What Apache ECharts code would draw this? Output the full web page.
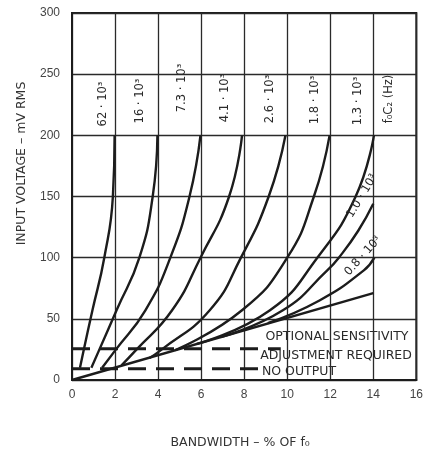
<!DOCTYPE html>
<html><head><meta charset="utf-8">
<script src="https://cdn.jsdelivr.net/npm/echarts@6/dist/echarts.min.js"></script>
<style>html,body{margin:0;padding:0;background:#fff}#c{width:426px;height:455px}</style>
</head><body><div id="c"></div>
<script>
// x: bandwidth (% of f0), y: input voltage (mV RMS)
const xTickValues = [0, 2, 4, 6, 8, 10, 12, 14, 16];
const yTickValues = [0, 50, 100, 150, 200, 250, 300];
const curveLabels = ['62 · 10³', '16 · 10³', '7.3 · 10³', '4.1 · 10³', '2.6 · 10³', '1.8 · 10³', '1.3 · 10³', '1.0 · 10³', '0.8 · 10³'];
const c62 = [[0.37,10],[0.55,25],[0.95,57],[1.5,100],[1.9,150],[1.98,200]];
const c16 = [[0.9,10],[1.25,24],[2.07,57],[3.13,100],[3.75,150],[3.97,200]];
const c73 = [[1.4,10],[2.0,24],[3.41,57],[4.57,100],[5.46,150],[5.97,200]];
const c41 = [[2.3,12],[2.95,24],[4.65,57],[5.97,100],[7.3,150],[7.9,200]];
const c26 = [[3.6,18],[4.1,24],[6.4,57],[7.85,100],[9.14,150],[9.92,200]];
const c18 = [[4.8,24.5],[7.9,57],[10.0,100],[11.24,150],[11.97,200]];
const c13 = [[5.8,29.5],[9.2,57],[11.4,100],[13.18,150],[14.03,200]];
const c10 = [[6.9,35],[9.8,57],[11.86,89.6],[12.4,100],[13.3,122],[14.0,144]];
const c08 = [[9.1,46.5],[11.5,65],[13.56,89.6],[14.05,100]];
const limitLine = [[0,0],[14,71]];
const optionalLine = [[0,25.5],[9.7,25.5]];
const noOutputLine = [[0,9.1],[8.8,9.1]];
const curves = [c62, c16, c73, c41, c26, c18, c13, c10, c08];

const ink = '#1c1c1c';
const chart = echarts.init(document.getElementById('c'), null, {renderer:'canvas'});
const series = curves.map((d, i) => ({
  type:'line', name: curveLabels[i], data:d, smooth:0.5,
  showSymbol:false, lineStyle:{color:ink, width:2.4}, z:5
}));
series.push({type:'line', data:limitLine, showSymbol:false, lineStyle:{color:ink, width:2.4}, z:5});
series.push({type:'line', data:optionalLine, showSymbol:false, lineStyle:{color:ink, width:3, type:[18,10]}, z:5});
series.push({type:'line', data:noOutputLine, showSymbol:false, lineStyle:{color:ink, width:3, type:[18,10]}, z:5});

const F = 'DejaVu Sans, sans-serif';
const F2 = 'Liberation Sans, DejaVu Sans, sans-serif';
const txtCol = '#2a2a2a';
const rotLabel = (txt, x, y) => ({type:'text', x, y, rotation:Math.PI/2, z:10,
  style:{text:txt, font:'11.5px ' + F, fill:txtCol, align:'center', verticalAlign:'middle'}});
const graphics = [
  rotLabel(curveLabels[0], 103, 104),
  rotLabel(curveLabels[1], 140, 101),
  rotLabel(curveLabels[2], 182, 88),
  rotLabel(curveLabels[3], 225, 98),
  rotLabel(curveLabels[4], 270, 99),
  rotLabel(curveLabels[5], 315, 100),
  rotLabel(curveLabels[6], 358, 101),
  rotLabel('f₀C₂ (Hz)', 389, 99),
  {type:'text', x:362, y:196, rotation:Math.PI*59/180, z:10,
   style:{text:curveLabels[7], font:'11.5px ' + F, fill:txtCol, align:'center', verticalAlign:'middle'}},
  {type:'text', x:363, y:256, rotation:Math.PI*48/180, z:10,
   style:{text:curveLabels[8], font:'11.5px ' + F, fill:txtCol, align:'center', verticalAlign:'middle'}},
  {type:'text', x:337, y:337, z:10, style:{text:'OPTIONAL SENSITIVITY', font:'12.5px ' + F, fill:txtCol, align:'center', verticalAlign:'middle'}},
  {type:'text', x:336, y:356, z:10, style:{text:'ADJUSTMENT REQUIRED', font:'12.5px ' + F, fill:txtCol, align:'center', verticalAlign:'middle'}},
  {type:'text', x:299, y:372, z:10, style:{text:'NO OUTPUT', font:'12.5px ' + F, fill:txtCol, align:'center', verticalAlign:'middle'}}
];

chart.setOption({
  backgroundColor:'#fff',
  animation:false,
  grid:{left:72, right:9, top:13, bottom:75, show:true, borderColor:ink, borderWidth:2},
  xAxis:{type:'value', min:xTickValues[0], max:xTickValues[xTickValues.length-1], interval:2,
    name:'BANDWIDTH – % OF f₀', nameLocation:'middle', nameGap:56,
    nameTextStyle:{color:'#333', fontSize:12.5, fontFamily:F, padding:[0,8,0,0]},
    axisLine:{show:true, lineStyle:{color:ink, width:2}}, axisTick:{show:false},
    axisLabel:{color:'#444', fontSize:12, fontFamily:F2, margin:9},
    splitLine:{show:true, lineStyle:{color:'#2a2a2a', width:1.3}}},
  yAxis:{type:'value', min:yTickValues[0], max:yTickValues[yTickValues.length-1], interval:50,
    name:'INPUT VOLTAGE – mV RMS', nameLocation:'middle', nameGap:44, nameRotate:90,
    nameTextStyle:{color:'#333', fontSize:12.5, fontFamily:F, padding:[0,0,0,66]},
    axisLine:{show:true, lineStyle:{color:ink, width:2}}, axisTick:{show:false},
    axisLabel:{color:'#444', fontSize:12, fontFamily:F2, margin:12},
    splitLine:{show:true, lineStyle:{color:'#2a2a2a', width:1.3}}},
  series, graphic: graphics
});
</script></body></html>
